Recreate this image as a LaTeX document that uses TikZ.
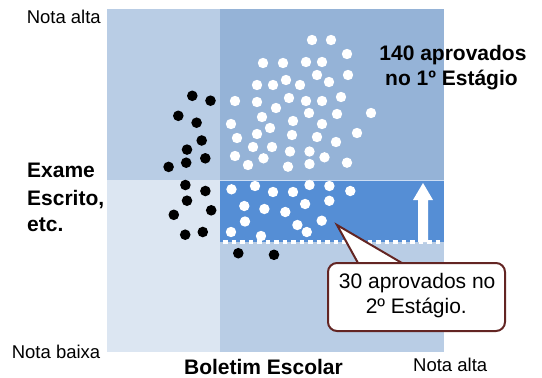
\documentclass[tikz,border=0pt]{standalone}
\usepackage{fontspec}
\setmainfont{Liberation Sans}
\definecolor{qTL}{HTML}{B9CDE5}
\definecolor{qTR}{HTML}{95B3D7}
\definecolor{qBL}{HTML}{DCE6F2}
\definecolor{qBR}{HTML}{B9CDE5}
\definecolor{bandblue}{HTML}{558ED5}
\definecolor{callred}{HTML}{632523}
\begin{document}
\begin{tikzpicture}[x=1pt,y=-1pt,
  lbl/.style={inner sep=0pt,font=\fontsize{18.5}{22}\selectfont},
  blbl/.style={inner sep=0pt,font=\bfseries\fontsize{21}{25}\selectfont},
  clbl/.style={inner sep=0pt,font=\fontsize{21}{25}\selectfont},
  wdot/.style={fill=white},
  bdot/.style={fill=black},
  callbox/.style={draw=callred,line width=2pt,fill=white,rounded corners=9pt,
    minimum width=177pt,minimum height=68pt,inner sep=0pt}]
\useasboundingbox (0,0) rectangle (542,378);
% quadrants
\fill[qTL] (107,9) rectangle (220,180);
\fill[qTR] (220,9) rectangle (444,180);
\fill[qBL] (107,180) rectangle (220,352);
\fill[qBR] (220,180) rectangle (444,352);
\fill[bandblue] (220,180) rectangle (444,242);
\draw[white!70!bandblue,line width=0.8pt] (220.4,180.4) -- (443.6,180.4);
% dashed threshold
\draw[white,line width=3.6pt,dash pattern=on 4.5pt off 4pt] (223,242) -- (444,242);
% up arrow
\fill[white] (418,242) -- (418,200) -- (413,200) -- (423,183) -- (433,200) -- (428,200) -- (428,242) -- cycle;
% white dots
\foreach \p in {(312,40),(331,40),(347,54),(263,63),(283,63),(306,62),(322,62),(317,75),(348,75),
  (286,80),(329,82),(257,85),(273,85),(300,85),(235,101),(257,102),(289,98),(306,101),(322,101),
  (341,97),(276,108),(262,117),(309,113),(337,114),(371,113),(231,124),(270,128),(293,121),(322,124),
  (237,138),(257,134),(292,135),(317,137),(357,133),(336,142),(253,147),(272,147),(290,151.5),
  (309.5,151.5),(324.5,157.3),(235,156),(263.5,158.3),(248,165),(288,166.7),(309.5,164),(347,162.7),
  (231.5,189.3),(255,186),(273,192),(293,192),(309.5,185),(329.4,186),(350.3,191),(244.3,206),
  (264.4,209),(285.3,212),(305.1,204),(329.3,200.8),(245,221.5),(297.4,225),(321.7,220.7),
  (231,232),(261,236),(306.8,232)}
  \fill[wdot] \p circle (5.2pt);
% black dots
\foreach \p in {(192.3,95.8),(210.5,100.7),(178.3,115.8),(196.6,122.7),(201.7,140.5),(187,149.6),
  (205.3,158.3),(186.2,162.7),(168.6,166.9),(185.4,185),(205.4,191),(187,200.7),(211.2,210.3),
  (173.8,214.8),(185.2,234.7),(202.8,232),(238.3,253.2),(274,254.8)}
  \fill[bdot] \p circle (5.3pt);
% callout
\node[callbox] (cbox) at (416.5,297) {};
\coordinate (tip) at (337,225);
\coordinate (bl) at (358,263);
\coordinate (br) at (402,263);
\fill[white] ([yshift=1.2pt]bl) -- (tip) -- ([yshift=1.2pt]br) -- cycle;
\draw[callred,line width=2pt,line join=miter] (bl) -- (tip) -- (br);
\node[clbl,anchor=base] (c1) at (417.2,288.3) {30 aprovados no};
\node[clbl,anchor=base] (c2) at (416.3,313.3) {2º Estágio.};
% labels
\node[lbl,anchor=base east] (yhigh) at (101,23.5) {Nota alta};
\node[lbl,anchor=base east] (ylow) at (100.5,358.6) {Nota baixa};
\node[lbl,anchor=base west] (xhigh) at (413,371.6) {Nota alta};
\node[blbl,anchor=base] (xlab) at (263.5,374) {Boletim Escolar};
\node[blbl,anchor=base west] (y1) at (27,177.3) {Exame};
\node[blbl,anchor=base west] (y2) at (27,205) {Escrito,};
\node[blbl,anchor=base west] (y3) at (27,231) {etc.};
\node[blbl,anchor=base] (p1) at (453,60.7) {140 aprovados};
\node[blbl,anchor=base] (p2) at (451.5,85.7) {no 1º Estágio};
\end{tikzpicture}
\end{document}
